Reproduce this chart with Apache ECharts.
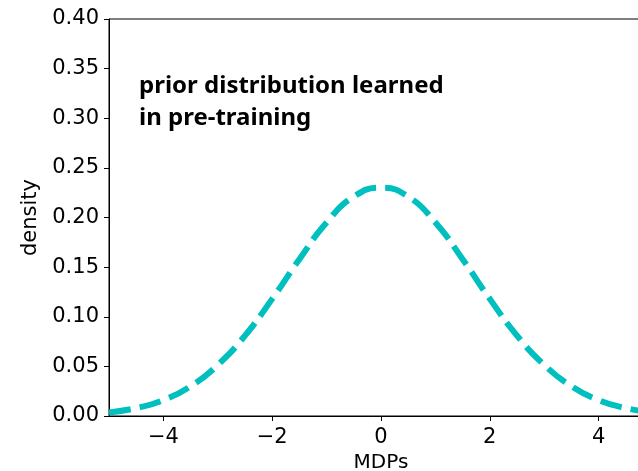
<!DOCTYPE html>
<html>
<head>
<meta charset="utf-8">
<script src="https://cdn.jsdelivr.net/npm/echarts@6/dist/echarts.min.js"></script>
<style>
  html, body { margin: 0; padding: 0; background: #fff; }
  #chart { width: 638px; height: 471px; }
</style>
</head>
<body>
<div id="chart"></div>
<script>
// values
const mdps = [-5, -4.5, -4, -3.5, -3, -2.5, -2, -1.5, -1, -0.5, 0, 0.5, 1, 1.5, 2, 2.5, 3, 3.5, 4, 4.5, 5];
const density = [0.0036, 0.0079, 0.016, 0.030, 0.0515, 0.081, 0.118, 0.158, 0.195, 0.221, 0.230,
                 0.221, 0.195, 0.158, 0.118, 0.081, 0.0515, 0.030, 0.016, 0.0079, 0.0036];
const xTicks = [-4, -2, 0, 2, 4];
const noteLines = ['prior distribution learned', 'in pre-training'];

const tickFont = 'DejaVu Sans';
const minus = v => String(v).replace('-', '\u2212');

let chart = echarts.init(document.getElementById('chart'));
chart.setOption({
  animation: false,
  grid: {
    left: 109, right: -15, top: 19, bottom: 55,
    outerBoundsMode: 'none',
    show: true, borderColor: '#000', borderWidth: 1, backgroundColor: 'transparent'
  },
  xAxis: {
    type: 'value', min: -5, max: 5,
    name: 'MDPs', nameLocation: 'middle', nameGap: 37,
    nameTextStyle: { fontFamily: tickFont, fontSize: 20, color: '#000' },
    axisLine: { show: true, onZero: false, lineStyle: { color: '#000', width: 1 } },
    axisTick: { show: true, length: 5, customValues: xTicks, lineStyle: { color: '#000' } },
    axisLabel: { customValues: xTicks, margin: 11, fontFamily: tickFont, fontSize: 21, color: '#000', formatter: minus },
    splitLine: { show: false }
  },
  yAxis: {
    type: 'value', min: 0, max: 0.4, interval: 0.05,
    name: 'density', nameLocation: 'middle', nameGap: 60,
    nameTextStyle: { fontFamily: tickFont, fontSize: 21, color: '#000' },
    axisLine: { show: true, onZero: false, lineStyle: { color: '#000', width: 1 } },
    axisTick: { show: true, length: 5, lineStyle: { color: '#000' } },
    axisLabel: { margin: 10, fontFamily: tickFont, fontSize: 21, color: '#000', formatter: v => v.toFixed(2) },
    splitLine: { show: false }
  },
  graphic: [{
    type: 'text', left: 139, top: 70,
    style: {
      text: noteLines.join('\n'),
      fontFamily: 'Noto Sans', fontWeight: 'bold', fontSize: 24, lineHeight: 32, fill: '#000'
    }
  }],
  series: [{
    type: 'line',
    data: mdps.map((x, i) => [x, density[i]]),
    smooth: true,
    showSymbol: false,
    clip: true,
    lineStyle: { color: '#00bfbf', width: 6, type: [22, 9], cap: 'butt' }
  }]
});
</script>
</body>
</html>
